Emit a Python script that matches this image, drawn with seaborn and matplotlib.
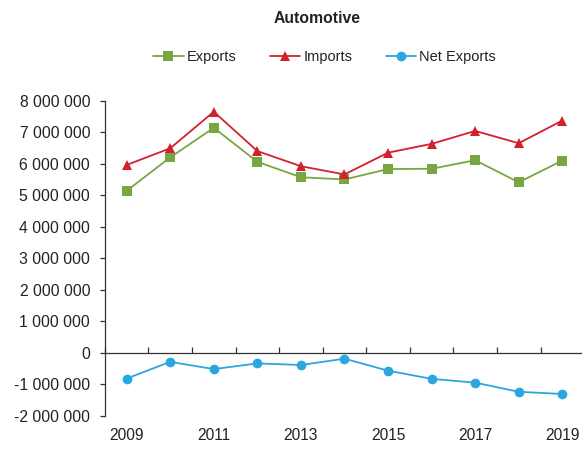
import numpy as np
import pandas as pd
import matplotlib
matplotlib.use("Agg")
import matplotlib.pyplot as plt
import matplotlib.transforms as mtransforms
from matplotlib.lines import Line2D
import seaborn as sns

# values
years = [2009, 2010, 2011, 2012, 2013, 2014, 2015, 2016, 2017, 2018, 2019]
exports = [5140000, 6200000, 7140000, 6060000, 5570000, 5500000, 5830000, 5840000, 6110000, 5410000, 6100000]
imports = [5960000, 6490000, 7650000, 6400000, 5920000, 5660000, 6350000, 6630000, 7040000, 6650000, 7370000]
net_exports = [-820000, -290000, -520000, -340000, -390000, -190000, -570000, -830000, -950000, -1240000, -1310000]
year_labels = ["2009", "", "2011", "", "2013", "", "2015", "", "2017", "", "2019"]

series_names = ["Exports", "Imports", "Net Exports"]
colors = {"Exports": "#78a641", "Imports": "#d2202e", "Net Exports": "#2aa7df"}
markers = {"Exports": "s", "Imports": "^", "Net Exports": "o"}

df = pd.DataFrame({
    "pos": list(range(len(years))) * 3,
    "value": exports + imports + net_exports,
    "series": ["Exports"] * len(years) + ["Imports"] * len(years) + ["Net Exports"] * len(years),
})

sns.set_theme(style="white")
plt.rcParams["font.family"] = ["Liberation Sans", "DejaVu Sans"]
text_color = "#222222"
axis_color = "#333333"

fig = plt.figure(figsize=(5.82, 4.53), dpi=100)
ax = fig.add_axes([0.1802, 0.0823, 0.8234, 0.6954])

sns.lineplot(data=df, x="pos", y="value", hue="series", style="series",
             hue_order=series_names, style_order=series_names,
             palette=colors, markers=markers, dashes=False,
             markersize=7, linewidth=1.3, markeredgewidth=0,
             legend=False, ax=ax)

ax.set_xlim(-0.5, len(years) - 0.5)
ax.set_ylim(-2000000, 8000000)
ax.set_yticks(np.arange(-2000000, 8000001, 1000000))
ax.set_yticklabels([f"{v:,.0f}".replace(",", " ") for v in ax.get_yticks()])
ax.set_xticks(np.arange(-0.5, len(years), 1))
ax.set_xticklabels([])
ax.set_xlabel("")
ax.set_ylabel("")

for side in ["top", "right"]:
    ax.spines[side].set_visible(False)
ax.spines["bottom"].set_position(("data", 0))
for side in ["left", "bottom"]:
    ax.spines[side].set_color(axis_color)
    ax.spines[side].set_linewidth(0.9)

ax.tick_params(axis="y", direction="out", length=3.6, width=0.9, color=axis_color,
               labelsize=11.3, labelcolor=text_color, pad=7, left=True)
ax.tick_params(axis="x", direction="in", length=4, width=0.9, color=axis_color, bottom=True)

# year labels sit below the plot area, not on the zero line
trans = mtransforms.blended_transform_factory(ax.transData, ax.transAxes)
for i, lab in enumerate(year_labels):
    ax.text(i, -0.064, lab, transform=trans, ha="center", va="center",
            fontsize=11.2, color=text_color)

fig.text(0.545, 0.96, "Automotive", ha="center", va="center",
         fontsize=11.3, fontweight="bold", color=text_color)

handles = [Line2D([0], [0], color=colors[s], marker=markers[s], markersize=7,
                  markeredgewidth=0, linewidth=1.3) for s in series_names]
fig.legend(handles, series_names, loc="center", bbox_to_anchor=(0.5576, 0.874),
           ncol=3, frameon=False, fontsize=10.5, handlelength=2.1,
           handletextpad=0.2, columnspacing=2.3, labelcolor=text_color)

fig.savefig("out.png", dpi=100)
